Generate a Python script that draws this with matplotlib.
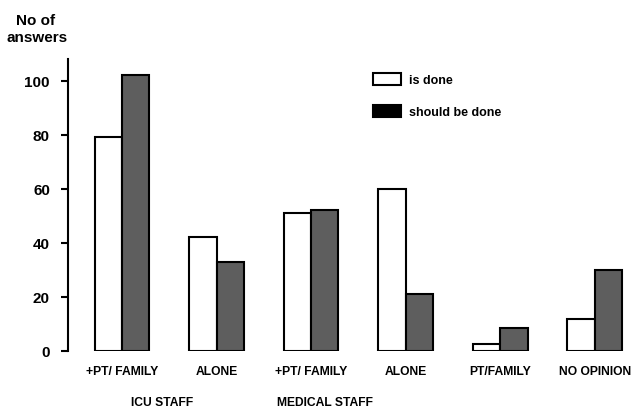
import numpy as np
import matplotlib.pyplot as plt

plt.rcParams['font.family'] = ['Liberation Sans', 'DejaVu Sans']

categories = ['+PT/ FAMILY', 'ALONE', '+PT/ FAMILY', 'ALONE', 'PT/FAMILY', 'NO OPINION']
is_done = [79, 42, 51, 60, 2.5, 12]
should_be_done = [102, 33, 52, 21, 8.5, 30]
groups = ['ICU STAFF', 'MEDICAL STAFF']
group_x = [0.42, 2.15]

x = np.arange(len(categories))
w = 0.29

fig = plt.figure(figsize=(6.41, 4.10), dpi=100)
ax = fig.add_axes([68/641, 58/410, 1 - 68/641, 292/410])

b1 = ax.bar(x - w/2, is_done, w, color='white', edgecolor='black', linewidth=1.5, label='is done')
b2 = ax.bar(x + w/2, should_be_done, w, color='#5e5e5e', edgecolor='black', linewidth=1.5, label='should be done')

ax.set_xlim(-0.571, 5.49)
ax.set_ylim(0, 108)
ax.set_yticks([0, 20, 40, 60, 80, 100])
ax.tick_params(axis='y', direction='out', length=5, width=1.5, labelsize=11, pad=8)
for t in ax.get_yticklabels():
    t.set_fontweight('bold')
ax.set_xticks([])
for s in ['top', 'right', 'bottom']:
    ax.spines[s].set_visible(False)
ax.spines['left'].set_linewidth(1.5)

for xi, c in zip(x, categories):
    ax.text(xi, -7.5, c, ha='center', va='center', fontsize=8.7, fontweight='bold')
for gx, g in zip(group_x, groups):
    ax.text(gx, -19, g, ha='center', va='center', fontsize=8.7, fontweight='bold', clip_on=False)

fig.text(36/641, 1 - 21/410, 'No of', ha='center', va='center', fontsize=11, fontweight='bold')
fig.text(37/641, 1 - 38/410, 'answers', ha='center', va='center', fontsize=11, fontweight='bold')

leg = ax.legend(handles=[b1, b2], loc='upper left', bbox_to_anchor=(373/641, 1 - 74/410),
                bbox_transform=fig.transFigure, frameon=False, borderpad=0, borderaxespad=0,
                handlelength=2.2, handleheight=1.1, labelspacing=1.5, handletextpad=0.7,
                prop={'size': 9, 'weight': 'bold'})
leg.legend_handles[1].set_facecolor('black')

fig.savefig('out.png', dpi=100)
